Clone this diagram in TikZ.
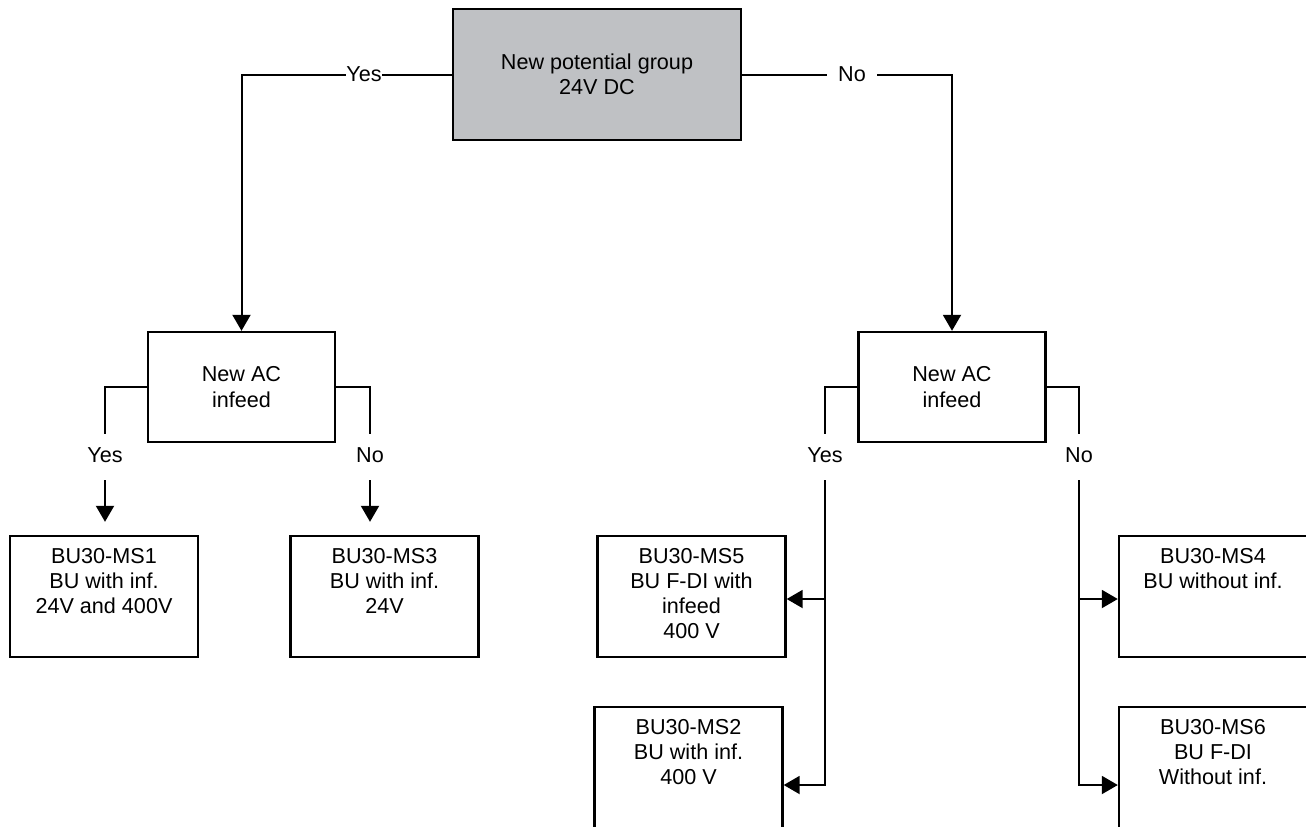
\documentclass[tikz,border=0pt]{standalone}
\usepackage{fontspec}
\setmainfont{Liberation Sans}
\usepackage{xcolor}
\usetikzlibrary{arrows.meta, positioning}

\definecolor{boxgray}{RGB}{191,193,196}

\tikzset{
	blk/.style={shape=rectangle, draw, line width=1.2pt, inner sep=0pt},
	grpbox/.style={blk, fill=boxgray, minimum width=144pt, minimum height=65.5pt, align=center},
	acbox/.style={blk, minimum width=93.5pt, minimum height=55pt, align=center},
	msbox/.style={blk, minimum width=94pt, minimum height=60.5pt},
	mstext/.style={anchor=north, align=center, inner xsep=0pt, inner ysep=6.4pt},
	wire/.style={line width=1pt},
	arr/.style={wire, -{Triangle[length=8pt, width=9pt]}},
	toplbl/.style={inner ysep=0pt, inner xsep=#1},
	sublbl/.style={anchor=base, inner sep=0pt, text height=14pt, text depth=9pt},
}

\begin{document}
\begin{tikzpicture}[x=0.5pt, y=-0.5pt, font=\fontsize{10.8pt}{12.6pt}\selectfont]
		\useasboundingbox (0,0) rectangle (1306,826);
		\clip (0,0) rectangle (1306,826);
		% Boxes:
		\node[grpbox](Grp) at (597,74.5){New potential group\\24V DC};
		\node[acbox](AC1) at (241.5,387){New AC\\infeed};
		\node[acbox](AC2) at (952,387){New AC\\infeed};
		\node[msbox](MS1) at (104,596.5){} node[mstext] at (MS1.north){BU30-MS1\\BU with inf.\\24V and 400V};
		\node[msbox](MS3) at (384.5,596.5){} node[mstext] at (MS3.north){BU30-MS3\\BU with inf.\\24V};
		\node[msbox](MS5) at (691.5,596.5){} node[mstext] at (MS5.north){BU30-MS5\\BU F-DI with\\infeed\\400 V};
		\node[msbox](MS2) at (688.5,767.5){} node[mstext] at (MS2.north){BU30-MS2\\BU with inf.\\400 V};
		\node[msbox](MS4) at (1213,596.5){} node[mstext] at (MS4.north){BU30-MS4\\BU without inf.};
		\node[msbox](MS6) at (1213,767.5){} node[mstext] at (MS6.north){BU30-MS6\\BU F-DI\\Without inf.};
		% Branch labels:
		\node[toplbl=0pt](Y0) at (364,74.5){Yes};
		\node[toplbl=5.6pt](N0) at (852,74.5){No};
		\node[sublbl](Y1) at (105,462){Yes};
		\node[sublbl](N1) at (370,462){No};
		\node[sublbl](Y2) at (825,462){Yes};
		\node[sublbl](N2) at (1079,462){No};
		% Wires:
		\draw[wire] (Grp.west) -- (Grp.west -| Y0.east);
		\draw[arr] (Y0.west |- Grp.west) -| (AC1.north);
		\draw[wire] (Grp.east) -- (Grp.east -| N0.west);
		\draw[arr] (N0.east |- Grp.east) -| (AC2.north);
		\draw[wire] (AC1.west) -| (Y1.north);
		\draw[arr, shorten >=6.5pt] (Y1.south) -- (Y1.south |- MS1.north);
		\draw[wire] (AC1.east) -| (N1.north);
		\draw[arr, shorten >=6.5pt] (N1.south) -- (N1.south |- MS3.north);
		\coordinate (A5) at ([yshift=-1.25pt]MS5.east);
		\coordinate (A2) at ([yshift=-8.75pt]MS2.east);
		\coordinate (A4) at ([yshift=-1.25pt]MS4.west);
		\coordinate (A6) at ([yshift=-8.75pt]MS6.west);
		\draw[wire] (AC2.west) -| (Y2.north);
		\draw[arr] (Y2.south) |- (A2);
		\draw[arr] (A5 -| Y2.south) -- (A5);
		\draw[wire] (AC2.east) -| (N2.north);
		\draw[arr] (N2.south) |- (A6);
		\draw[arr] (A4 -| N2.south) -- (A4);
	\end{tikzpicture}
\end{document}
